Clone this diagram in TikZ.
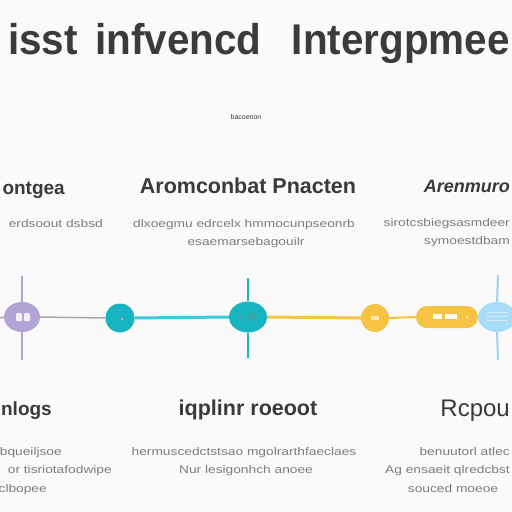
\documentclass[tikz,border=0pt]{standalone}
\usepackage{fontspec}
\setmainfont{Liberation Sans}
\newfontfamily\descfont[FakeStretch=1.25]{Liberation Sans}
\newfontfamily\titlefont[FakeStretch=0.94]{Liberation Sans}
\usetikzlibrary{shapes.geometric}
\definecolor{bgc}{HTML}{FAFAFA}
\definecolor{titlec}{HTML}{3B3B3B}
\definecolor{headc}{HTML}{3A3A3A}
\definecolor{descc}{HTML}{7C7C7C}
\definecolor{purp}{HTML}{B3A4D6}
\definecolor{grayline}{HTML}{A8A8B0}
\definecolor{tealc}{HTML}{17B5BF}
\definecolor{teall}{HTML}{3EC8DC}
\definecolor{yel}{HTML}{F6C343}
\definecolor{blu}{HTML}{A9DCF8}
\definecolor{blul}{HTML}{9ED3F3}
\begin{document}
\begin{tikzpicture}[x=1pt,y=-1pt,
  title/.style={inner sep=0pt,text=titlec,font=\titlefont\fontsize{43}{48}\selectfont\bfseries},
  head/.style={inner sep=0pt,text=headc,font=\fontsize{21.5}{24}\selectfont\bfseries},
  desc/.style={inner sep=0pt,text=descc,font=\descfont\fontsize{11}{13}\selectfont},
  dot/.style={inner sep=0pt,minimum size=29pt,circle,draw=none},
  ell/.style={inner sep=0pt,ellipse,draw=none},
]
\useasboundingbox (0,0) rectangle (512,512);
\fill[bgc] (0,0) rectangle (512,512);
\clip (0,0) rectangle (512,512);

% title
\node[title,anchor=base east] (t1w) at (78,54) {isst};
\node[title,anchor=base west] (t2w) at (95,54) {infvencd};
\node[title,anchor=base east] (t3w) at (510,54) {Intergpmee};

\node[inner sep=0pt,text=headc,font=\fontsize{7}{8}\selectfont,anchor=base] (sub) at (246,119) {bacoenon};

% top headings
\node[head,anchor=base east,font=\fontsize{19}{22}\selectfont\bfseries] (hl) at (65,194) {ontgea};
\node[head,anchor=base] (hc) at (248,193) {Aromconbat Pnacten};
\node[head,anchor=base east,font=\fontsize{18}{22}\selectfont\bfseries\itshape] (hr) at (510,192) {Arenmuro};

% top descriptions
\node[desc,anchor=base east] (dl1) at (103,227) {erdsoout dsbsd};
\node[desc,anchor=base] (dc1) at (244,227) {dlxoegmu edrcelx hmmocunpseonrb};
\node[desc,anchor=base] (dc2) at (246,245) {esaemarsebagouilr};
\node[desc,anchor=base east] (dr1) at (510,226) {sirotcsbiegsasmdeer};
\node[desc,anchor=base east] (dr2) at (510,244) {symoestdbam};

% timeline nodes
\node[ell,fill=purp,minimum width=36pt,minimum height=30pt] (p1) at (22,317) {};
\node[dot,fill=tealc] (c1) at (120,318) {};
\node[ell,fill=tealc,minimum width=38pt,minimum height=31pt] (c2) at (248,317) {};
\node[dot,fill=yel,minimum size=28pt] (y1) at (375,318) {};
\node[inner sep=0pt,rounded corners=11pt,fill=yel,minimum width=62pt,minimum height=22pt] (y2) at (447,317) {};
\node[ell,fill=blu,minimum width=38pt,minimum height=30pt] (b1) at (497,317) {};

\coordinate (lft) at (0,318);
\coordinate (p1t) at (22,276);
\coordinate (p1b) at (22,360);
\coordinate (c2t) at (248,278);
\coordinate (c2b) at (248,358);
\coordinate (b1t) at (498,275);
\coordinate (b1b) at (498,360);

% connectors
\draw[grayline,line width=1.5pt] (lft) -- (p1.west);
\draw[grayline,line width=1.5pt] (p1.east) -- (c1.west);
\draw[teall,line width=3pt] (c1.east) -- (c2.west);
\draw[yel,line width=3pt] (c2.east) -- (y1.west);
\draw[yel,line width=2pt] (y1.east) -- (y2.west);
\draw[purp,line width=2.5pt] (p1t) -- (p1.north);
\draw[purp,line width=2.5pt] (p1.south) -- (p1b);
\draw[tealc,line width=2.5pt] (c2t) -- (c2.north);
\draw[tealc,line width=2.5pt] (c2.south) -- (c2b);
\draw[blul,line width=2pt] (b1t) -- (b1.north);
\draw[blul,line width=2pt] (b1.south) -- (b1b);

% inner marks
\fill[white!85!purp,rounded corners=1pt] (16,313) rectangle (22,321);
\fill[white!85!purp,rounded corners=1pt] (24,313) rectangle (30,321);
\fill[gray!60] (122,319) circle (1.6);
\fill[gray!25!tealc] (240,317) circle (3);
\fill[gray!25!tealc] (252,317) ellipse (5 and 4.5);
\fill[white!60!yel] (371,316) rectangle (379,320);
\fill[white] (433,314) rectangle (442,319);
\fill[white] (445,314) rectangle (457,319);
\fill[white!60!yel] (467,317) circle (1.5);
\foreach \yy in {312,316,320}{\draw[white!50!blu,line width=1pt] (487,\yy) -- (508,\yy);}

% bottom headings
\node[head,anchor=base east,font=\fontsize{19}{22}\selectfont\bfseries] (bl) at (52,415) {nlogs};
\node[head,anchor=base] (bc) at (248,415) {iqplinr roeoot};
\node[head,anchor=base east,font=\fontsize{24}{26}\selectfont] (br) at (510,416) {Rcpou};

% bottom descriptions
\node[desc,anchor=base east] (el1) at (62,455) {bqueiljsoe};
\node[desc,anchor=base east] (el2) at (112,473) {or tisriotafodwipe};
\node[desc,anchor=base east] (el3) at (47,492) {clbopee};
\node[desc,anchor=base] (ec1) at (244,455) {hermuscedctstsao mgolrarthfaeclaes};
\node[desc,anchor=base] (ec2) at (246,473) {Nur lesigonhch anoee};
\node[desc,anchor=base east] (er1) at (510,455) {benuutorl atlec};
\node[desc,anchor=base east] (er2) at (510,473) {Ag ensaeit qlredcbst};
\node[desc,anchor=base] (er3) at (453,492) {souced moeoe};
\end{tikzpicture}
\end{document}
